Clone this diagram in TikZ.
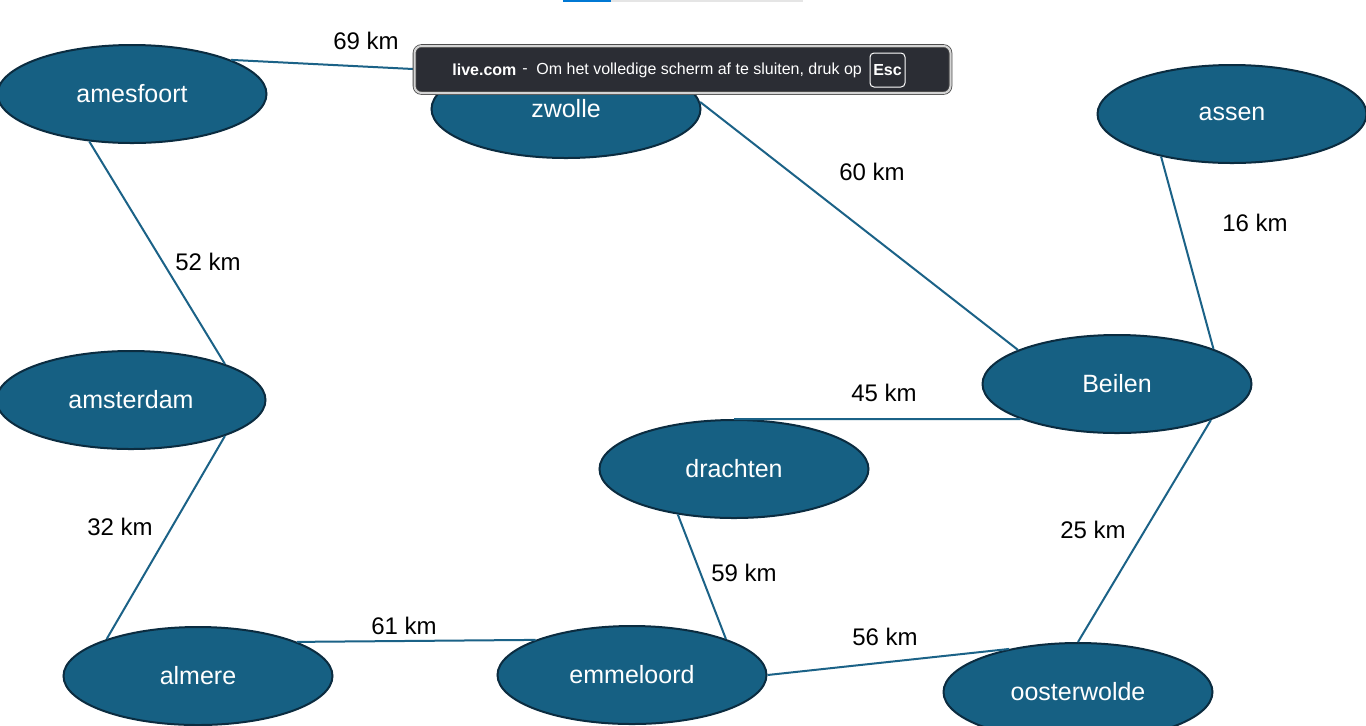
\documentclass[tikz,border=0pt]{standalone}
\usepackage{fontspec}
\setmainfont{Liberation Sans}
\usetikzlibrary{shapes.geometric}
\definecolor{citynavy}{HTML}{166083}
\definecolor{cityrim}{HTML}{0B2C40}
\definecolor{roadblue}{HTML}{1B6287}
\definecolor{toastbg}{HTML}{2B2D34}
\definecolor{toastrim}{HTML}{D4D4D4}
\definecolor{tabblue}{HTML}{0078D4}
\definecolor{tabgrey}{HTML}{E5E5E5}
\tikzset{
  city/.style={ellipse,draw=cityrim,line width=1pt,fill=citynavy,minimum width=134.5pt,minimum height=49pt,inner sep=0pt,text=white,font=\fontsize{12.5}{15}\selectfont},
  road/.style={draw=roadblue,line width=1pt},
  dist/.style={inner sep=0pt,font=\fontsize{12}{14}\selectfont},
  toasttext/.style={inner sep=0pt,anchor=west,text=white,font=\fontsize{8}{10}\selectfont}
}
\begin{document}
\begin{tikzpicture}[x=0.5pt,y=-0.5pt]
\useasboundingbox (0,0) rectangle (1366,725);
\fill[white] (0,0) rectangle (1366,725);
\fill[tabblue] (563,0) rectangle (611,2);
\fill[tabgrey] (611,0) rectangle (803,2);
\node[city] (amesfoort) at (132,94) {amesfoort};
\node[city] (zwolle) at (566,109) {zwolle};
\node[city] (assen) at (1232,114) {assen};
\node[city] (amsterdam) at (131,400) {amsterdam};
\node[city] (beilen) at (1117,384) {Beilen};
\node[city] (drachten) at (734,469) {drachten};
\node[city] (almere) at (198,676) {almere};
\node[city] (emmeloord) at (632,675) {emmeloord};
\node[city] (oosterwolde) at (1078,692) {oosterwolde};
\draw[road] (amesfoort.19) -- (zwolle.158);
\draw[road] (zwolle.3) -- (beilen.161);
\draw[road] (amesfoort.228) -- (amsterdam.21);
\draw[road] (amsterdam.339) -- (almere.158);
\draw[road] (almere.19) -- (emmeloord.160);
\draw[road] (drachten.219) -- (emmeloord.21);
\draw[road] (drachten.north) -- (beilen.200);
\draw[road] (beilen.20) -- (assen.211);
\draw[road] (beilen.339) -- (oosterwolde.north);
\draw[road] (emmeloord.east) -- (oosterwolde.148);
\node[dist] (d69) at (366,41) {69 km};
\node[dist] (d60) at (872,172) {60 km};
\node[dist] (d52) at (208,262) {52 km};
\node[dist] (d32) at (120,527) {32 km};
\node[dist] (d61) at (404,626) {61 km};
\node[dist] (d59) at (744,573) {59 km};
\node[dist] (d45) at (884,393) {45 km};
\node[dist] (d16) at (1255,223) {16 km};
\node[dist] (d25) at (1093,530) {25 km};
\node[dist] (d56) at (885,637) {56 km};
\node[draw=black!70,double=toastrim,double distance=1pt,fill=toastbg,rounded corners=3.5pt,minimum width=268pt,minimum height=23.5pt,inner sep=0pt] (toast) at (682.5,69.5) {};
\node[toasttext] (site) at (452,70) {\bfseries live.com};
\node[toasttext] (dash) at (522,71) {-};
\node[toasttext] (msg) at (536,70) {Om het volledige scherm af te sluiten, druk op};
\node[draw=white,line width=0.5pt,rounded corners=2pt,minimum width=17.5pt,minimum height=17pt,inner sep=0pt,text=white,font=\fontsize{8}{10}\selectfont\bfseries] (esc) at (887.5,70) {Esc};
\end{tikzpicture}
\end{document}
